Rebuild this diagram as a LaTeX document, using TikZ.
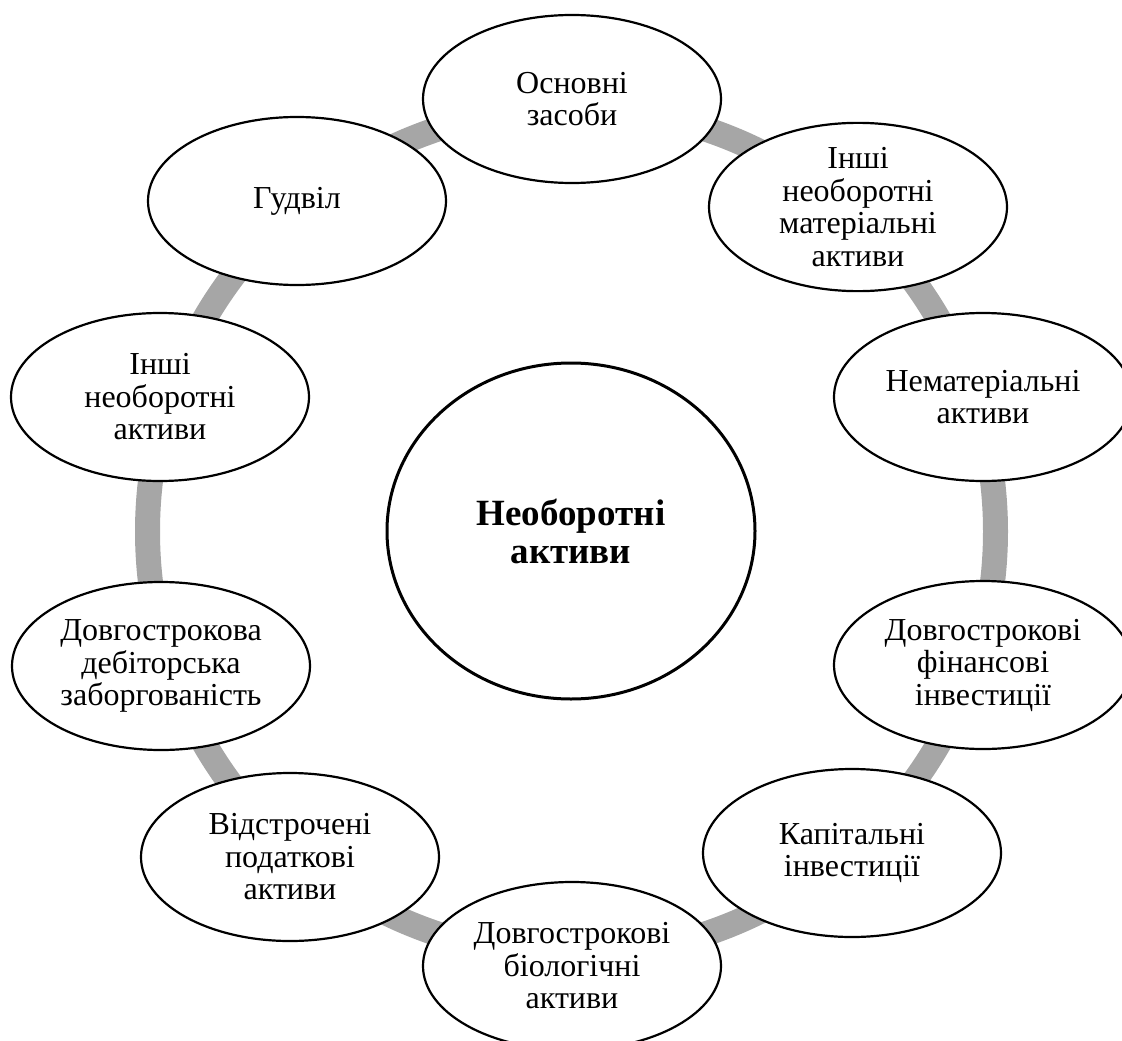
\documentclass[tikz,border=0pt]{standalone}
\usepackage{fontspec}
\setmainfont{Liberation Serif}
\usetikzlibrary{shapes.geometric}

\definecolor{ringgray}{RGB}{166,166,166}

\tikzset{
  item/.style={ellipse, draw=black, line width=2.2pt, fill=white,
    minimum width=298pt, minimum height=168pt, inner sep=0pt,
    align=center, font=\fontsize{32}{32.5}\selectfont},
  hubnode/.style={ellipse, draw=black, line width=3pt, fill=white,
    minimum width=368pt, minimum height=336pt, inner sep=0pt,
    align=center, font=\fontsize{37}{38}\selectfont\bfseries},
  ring/.style={draw=ringgray, line width=25pt}
}

\begin{document}
\begin{tikzpicture}[x=1pt, y=-1pt]
  \useasboundingbox (0,0) rectangle (1122,1041);
  \clip (0,0) rectangle (1122,1041);

  % centre of the cycle
  \coordinate (mid) at (571.5,531.5);

  % grey ring joining the items
  \draw[ring] (mid) circle[radius=424];

  % central concept
  \node[hubnode] (hub) at (571,531) {Необоротні\\активи};

  % items around the cycle
  \node[item] (osn) at (572,99)  {Основні\\засоби};
  \node[item] (inm) at (858,207) {Інші\\необоротні\\матеріальні\\активи};
  \node[item] (nem) at (983,397) {Нематеріальні\\активи};
  \node[item] (fin) at (983,665) {Довгострокові\\фінансові\\інвестиції};
  \node[item] (kap) at (852,853) {Капітальні\\інвестиції};
  \node[item] (bio) at (572,966) {Довгострокові\\біологічні\\активи};
  \node[item] (vid) at (290,857) {Відстрочені\\податкові\\активи};
  \node[item] (deb) at (161,666) {Довгострокова\\дебіторська\\заборгованість};
  \node[item] (ina) at (160,397) {Інші\\необоротні\\активи};
  \node[item] (gud) at (297,201) {Гудвіл};
\end{tikzpicture}
\end{document}
